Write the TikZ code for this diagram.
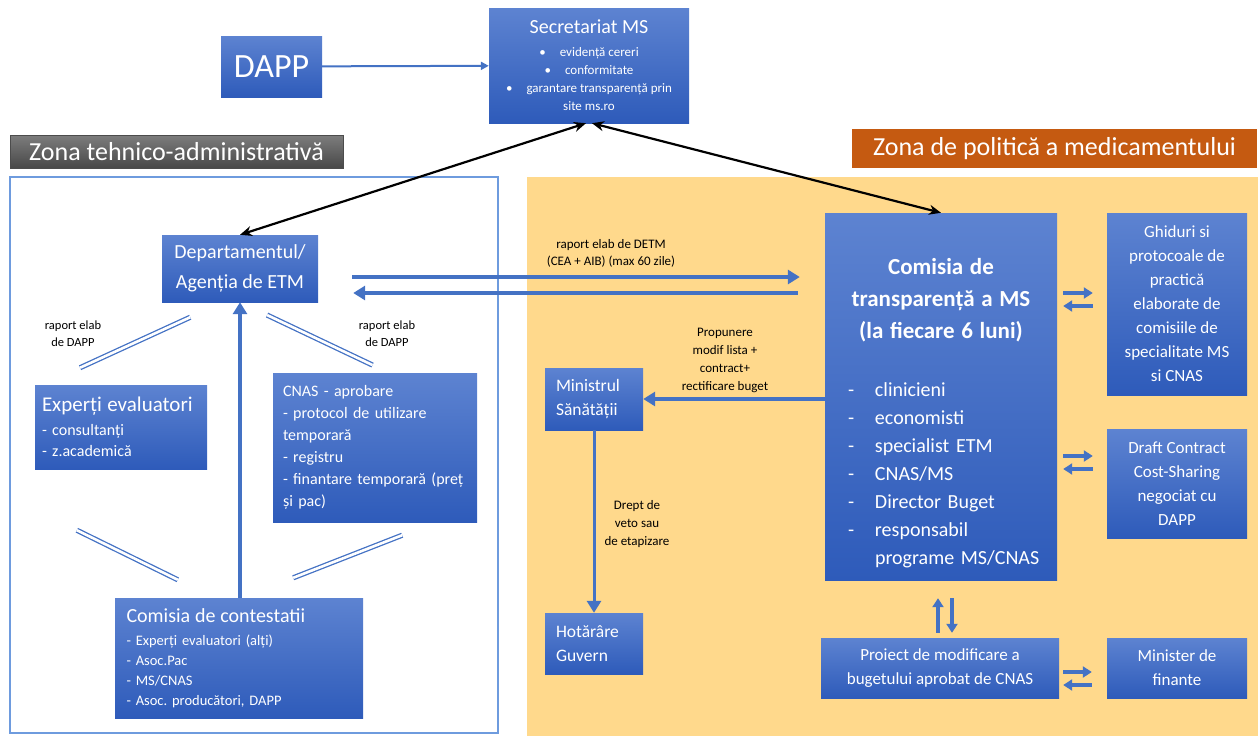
\documentclass[tikz,border=0pt]{standalone}
\usepackage{fontspec}
\setmainfont{Carlito}
\usetikzlibrary{arrows.meta, calc}

\definecolor{boxtop}{RGB}{93,131,209}
\definecolor{boxbot}{RGB}{46,91,186}
\definecolor{linkblue}{RGB}{68,114,196}
\definecolor{zoneyellow}{RGB}{255,217,140}
\definecolor{zoneorange}{RGB}{197,90,17}
\definecolor{frameblue}{RGB}{110,155,222}
\definecolor{graytop}{RGB}{125,125,125}
\definecolor{graybot}{RGB}{72,72,72}

\newcommand{\fsz}[2]{\fontsize{#1}{#2}\selectfont}
\frenchspacing

\begin{document}
\begin{tikzpicture}[
        x=1pt, y=-1pt,
        box/.style={
            top color=boxtop,
            bottom color=boxbot,
            text=white,
            inner sep=0pt,
            align=center
        },
        zonelabel/.style={
            text=white,
            inner sep=0pt,
            font=\fsz{26}{30}
        },
        lbl/.style={
            text=black,
            align=center,
            inner sep=0pt
        },
        barrow/.style={
            draw=linkblue,
            line width=3.5pt,
            -{Triangle[length=12pt,width=14pt]}
        },
        thinarrow/.style={
            draw=linkblue,
            line width=2pt,
            -{Triangle[length=8pt,width=8pt]}
        },
        blkarrow/.style={
            draw=black,
            line width=2.2pt,
            {Stealth[length=12pt,width=10pt]}-{Stealth[length=12pt,width=10pt]}
        },
        dbl/.style={
            draw=linkblue,
            line width=1.3pt,
            double=white,
            double distance=2.6pt
        },
        xch/.style={
            draw=linkblue,
            line width=3.5pt,
            -{Triangle[length=9pt,width=11pt]}
        }
    ]

    \useasboundingbox (0,0) rectangle (1258,736);

    % Zones
    \fill[zoneyellow] (527,177) rectangle (1258,736);
    \draw[frameblue, line width=1.3pt] (10,177) rectangle (498,733);

    \node[zonelabel, minimum width=333pt, minimum height=33pt,
          top color=graytop, bottom color=graybot, draw=black!70] (zta)
        at (176.5,151.5) {Zona tehnico-administrativă};
    \node[zonelabel, minimum width=405pt, minimum height=39pt,
          fill=zoneorange] (zpm)
        at (1054.5,148.5) {Zona de politică a medicamentului};

    % Top
    \node[box, minimum width=101pt, minimum height=61pt, font=\fsz{34}{40}] (dapp)
        at (271.5,66.5) {DAPP};

    \node[box, minimum width=200pt, minimum height=115pt, font=\fsz{13}{18}] (sec)
        at (589,65.5)
        {{\fsz{20}{22}Secretariat MS}\\[5pt]
         \textbullet\hspace{14pt}evidență cereri\\
         \textbullet\hspace{14pt}conformitate\\
         \textbullet\hspace{14pt}garantare transparență prin\\
         site ms.ro};

    % Left zone
    \node[box, minimum width=156pt, minimum height=67pt, font=\fsz{20}{30}] (dept)
        at (240,268.5) {Departamentul/\\Agenția de ETM};

    \node[box, minimum width=172pt, minimum height=84pt, text width=158pt,
          align=left, font=\fsz{16}{21}] (exp)
        at (121,427)
        {{\fsz{21}{21}Experți evaluatori}\\[3pt]
         - consultanți\\
         - z.academică};

    \node[box, minimum width=204pt, minimum height=149pt, text width=184pt,
          align=left, font=\fsz{16}{22}] (cnas)
        at (375,447.5)
        {CNAS - aprobare\\
         - protocol de utilizare\\
         temporară\\
         - registru\\
         - finantare temporară (preț\\
         și pac)};

    \node[box, minimum width=248pt, minimum height=120pt, text width=225pt,
          align=left, font=\fsz{14.5}{20}] (cc)
        at (239,658)
        {{\fsz{20}{20}Comisia de contestatii}\\[3pt]
         - Experți evaluatori (alți)\\
         - Asoc.Pac\\
         - MS/CNAS\\
         - Asoc. producători, DAPP};

    \node[lbl, font=\fsz{12.5}{17}] (raportl) at (73,334) {raport elab\\de DAPP};
    \node[lbl, font=\fsz{12.5}{17}] (raportr) at (387,334) {raport elab\\de DAPP};

    % Right zone
    \node[box, minimum width=232pt, minimum height=367pt, text width=200pt,
          align=left, font=\fsz{20}{28}] (tc)
        at (941,396.5)
        {{\centering\fsz{23}{32}\bfseries\rule{0pt}{49pt}Comisia de\\
          transparență a MS\\
          (la fiecare 6 luni)\par}
         \vspace{30pt}
         \hspace*{7pt}\makebox[27pt][l]{-}clinicieni\\
         \hspace*{7pt}\makebox[27pt][l]{-}economisti\\
         \hspace*{7pt}\makebox[27pt][l]{-}specialist ETM\\
         \hspace*{7pt}\makebox[27pt][l]{-}CNAS/MS\\
         \hspace*{7pt}\makebox[27pt][l]{-}Director Buget\\
         \hspace*{7pt}\makebox[27pt][l]{-}responsabil\\
         \hspace*{7pt}\makebox[27pt][l]{}programe MS/CNAS};

    \node[box, minimum width=140pt, minimum height=182pt, font=\fsz{17}{24}] (gh)
        at (1177,304)
        {Ghiduri si\\protocoale de\\practică\\elaborate de\\comisiile de\\specialitate MS\\si CNAS};

    \node[box, minimum width=140pt, minimum height=109pt, font=\fsz{17}{24}] (dr)
        at (1177,483.5)
        {Draft Contract\\Cost-Sharing\\negociat cu\\DAPP};

    \node[box, minimum width=98pt, minimum height=62pt, text width=76pt,
          align=left, font=\fsz{17.5}{24}] (min)
        at (594,399) {Ministrul\\Sănătății};

    \node[box, minimum width=98pt, minimum height=61pt, text width=76pt,
          align=left, font=\fsz{17.5}{24}] (hot)
        at (594,643.5) {Hotărâre\\Guvern};

    \node[box, minimum width=238pt, minimum height=60pt, font=\fsz{17}{24}] (pr)
        at (940,668) {Proiect de modificare a\\bugetului aprobat de CNAS};

    \node[box, minimum width=140pt, minimum height=60pt, font=\fsz{17}{24}] (mf)
        at (1177,668) {Minister de\\finante};

    \node[lbl, font=\fsz{13}{17}] (detm) at (611,253.5)
        {raport elab de DETM\\(CEA + AIB) (max 60 zile)};
    \node[lbl, font=\fsz{13}{18}] (prop) at (725,360)
        {Propunere\\modif lista +\\contract+\\rectificare buget};
    \node[lbl, font=\fsz{13}{18}] (veto) at (637,524)
        {Drept de\\veto sau\\de etapizare};

    % Arrows at the top
    \draw[thinarrow] (dapp) -- (sec);
    \draw[blkarrow] ([xshift=-3pt]sec.south) -- (dept.north);
    \draw[blkarrow] ([xshift=3pt]sec.south) -- (tc.north);

    % Report between ETM and the commission
    \draw[barrow, shorten <=34pt, shorten >=25pt] (dept.east |- 0,277) -- (tc.west |- 0,277);
    \draw[barrow, shorten <=27pt, shorten >=35pt] (tc.west |- 0,293) -- (dept.east |- 0,293);

    % Left zone links
    \draw[barrow] (cc.north -| dept.south) -- (dept.south);
    \draw[dbl, shorten <=36pt, shorten >=41pt] ([xshift=-17pt]dept.south) -- ([xshift=8pt]exp.north west);
    \draw[dbl, shorten <=30pt, shorten >=18pt] (dept.south) -- ([xshift=116pt]cnas.north west);
    \draw[dbl] ($(exp.south west)+(42,61)$) -- ($(cc.north west)+(63,-18)$);
    \draw[dbl] ($(cnas.south east)+(-75,13)$) -- ($(cc.north east)+(-70,-20)$);

    % Ministry
    \draw[barrow] (tc.west |- min.east) -- (min.east);
    \draw[barrow, line width=3pt] (min.south) -- (hot.north);

    % Exchanges
    \draw[xch, shorten <=6pt, shorten >=14pt] (tc.east |- 0,293) -- (gh.west |- 0,293);
    \draw[xch, shorten <=14pt, shorten >=6pt] (gh.west |- 0,306) -- (tc.east |- 0,306);
    \draw[xch, shorten <=6pt, shorten >=14pt] (tc.east |- 0,456) -- (dr.west |- 0,456);
    \draw[xch, shorten <=14pt, shorten >=6pt] (dr.west |- 0,469) -- (tc.east |- 0,469);
    \draw[xch, shorten <=4pt, shorten >=15pt] (pr.east |- 0,672) -- (mf.west |- 0,672);
    \draw[xch, shorten <=15pt, shorten >=4pt] (mf.west |- 0,685) -- (pr.east |- 0,685);
    \draw[xch, shorten <=5pt, shorten >=18pt] (pr.north -| 938,0) -- (tc.south -| 938,0);
    \draw[xch, shorten <=18pt, shorten >=5pt] (tc.south -| 952,0) -- (pr.north -| 952,0);

\end{tikzpicture}
\end{document}
